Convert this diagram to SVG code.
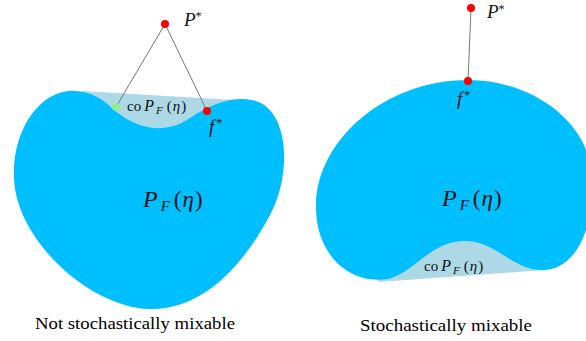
<svg xmlns="http://www.w3.org/2000/svg" width="586" height="341" viewBox="0 0 586 341">
<style>
.blue{fill:#00bfff}
.light{fill:#add8e6}
.ln{stroke:#777;stroke-width:1;fill:none}
.m{font-family:"Liberation Serif",serif;fill:#111}
.it{font-style:italic}
.cap{font-family:"Liberation Serif",serif;font-size:17.5px;fill:#000}
</style>
<g id="left-set">
<path class="light" d="M82,91 L250,101 L250,135 L82,135 Z"/>
<path class="blue" d="M14,178 C12,128 42,88 76,91 C100,93 108,106 122,116 C140,128 165,135 190,118 C210,105 230,96 252,100 C290,107 292,175 270,215 C245,262 205,310 150,309 C90,308 16,240 14,178 Z"/>
</g>
<g id="right-set">
<path class="light" d="M378,282 L545,270 L545,235 L378,235 Z"/>
<path class="blue" d="M468,80 C530,80 588,120 592,175 C595,230 575,272 540,270 C510,268 495,240 463,241 C430,242 415,272 388,279 C345,285 315,250 316,205 C317,140 385,80 468,80 Z"/>
</g>
<g id="connectors">
<line class="ln" x1="165" y1="24" x2="116" y2="107"/>
<line class="ln" x1="165" y1="24" x2="207" y2="111"/>
<line class="ln" x1="471" y1="8" x2="468" y2="81"/>
</g>
<g id="p-star-left">
<circle cx="165" cy="24" r="4" fill="#ff0000"/>
<text class="m" x="184" y="26" font-size="19"><tspan class="it">P</tspan><tspan font-size="12" dy="-6">*</tspan></text>
</g>
<g id="g-left">
<circle cx="116" cy="107" r="4" fill="#90ee90"/>
</g>
<g id="f-star-left">
<circle cx="207" cy="111" r="4" fill="#ff0000"/>
<text class="m" x="209" y="133" font-size="19"><tspan class="it">f</tspan><tspan font-size="12" dy="-6" dx="2">*</tspan></text>
</g>
<g id="co-left">
<text class="m" x="127" y="111" font-size="15">co<tspan class="it" dx="3" font-size="16">P</tspan><tspan class="it" font-size="11" dx="2" dy="3">F</tspan><tspan dy="-3" dx="4">(</tspan><tspan class="it" dx="1">η</tspan><tspan dx="1">)</tspan></text>
</g>
<g id="set-left-label">
<text class="m" x="143" y="207" font-size="23"><tspan class="it" font-size="24">P</tspan><tspan class="it" font-size="15" dx="3" dy="4">F</tspan><tspan dy="-4" dx="4">(</tspan><tspan class="it" dx="1">η</tspan><tspan dx="1">)</tspan></text>
</g>
<g id="p-star-right">
<circle cx="471" cy="8" r="4" fill="#ff0000"/>
<text class="m" x="487" y="18" font-size="19"><tspan class="it">P</tspan><tspan font-size="12" dy="-5">*</tspan></text>
</g>
<g id="f-star-right">
<circle cx="468" cy="81" r="4" fill="#ff0000"/>
<text class="m" x="457" y="105" font-size="19"><tspan class="it">f</tspan><tspan font-size="12" dy="-6" dx="2">*</tspan></text>
</g>
<g id="set-right-label">
<text class="m" x="442" y="206" font-size="23"><tspan class="it" font-size="24">P</tspan><tspan class="it" font-size="15" dx="3" dy="4">F</tspan><tspan dy="-4" dx="4">(</tspan><tspan class="it" dx="1">η</tspan><tspan dx="1">)</tspan></text>
</g>
<g id="co-right">
<text class="m" x="424" y="271" font-size="15">co<tspan class="it" dx="3" font-size="16">P</tspan><tspan class="it" font-size="11" dx="2" dy="3">F</tspan><tspan dy="-3" dx="4">(</tspan><tspan class="it" dx="1">η</tspan><tspan dx="1">)</tspan></text>
</g>
<text class="cap" x="35" y="329" textLength="200" lengthAdjust="spacingAndGlyphs">Not stochastically mixable</text>
<text class="cap" x="360" y="331" textLength="172" lengthAdjust="spacingAndGlyphs">Stochastically mixable</text>
</svg>
